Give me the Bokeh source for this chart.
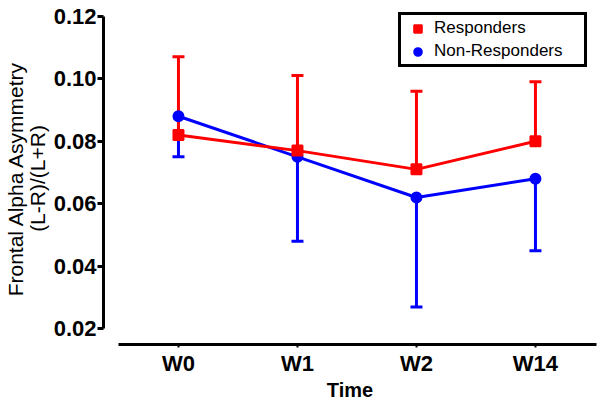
from bokeh.plotting import figure
from bokeh.models import FixedTicker, Legend, LegendItem, Whisker, ColumnDataSource, NumeralTickFormatter
from bokeh.embed import file_html
from bokeh.resources import INLINE

weeks = ["W0", "W1", "W2", "W14"]
resp_mean = [0.082, 0.077, 0.071, 0.080]
resp_upper = [0.107, 0.101, 0.096, 0.099]
nonresp_mean = [0.088, 0.075, 0.062, 0.068]
nonresp_lower = [0.075, 0.048, 0.027, 0.045]
y_ticks = [0.02, 0.04, 0.06, 0.08, 0.10, 0.12]

xs = list(range(len(weeks)))
RED = "#ff0000"
BLUE = "#0000ff"
FONT = "Liberation Sans"

p = figure(width=604, height=406, output_backend="svg", toolbar_location=None,
           x_range=(-0.630, 3.513), y_range=(0.01498, 0.12118),
           min_border_left=103, min_border_right=8, min_border_top=12, min_border_bottom=62)
p.outline_line_color = None
p.grid.visible = False
p.background_fill_color = "white"

# error bars
src_r = ColumnDataSource(dict(x=xs, base=resp_mean, upper=resp_upper))
src_b = ColumnDataSource(dict(x=xs, base=nonresp_mean, lower=nonresp_lower))
wr = Whisker(source=src_r, base="x", upper="upper", lower="base", dimension="height",
             line_color=RED, line_width=3)
wr.upper_head.line_color = RED
wr.upper_head.line_width = 3
wr.upper_head.size = 12
wr.lower_head = None
wb = Whisker(source=src_b, base="x", upper="base", lower="lower", dimension="height",
             line_color=BLUE, line_width=3)
wb.lower_head.line_color = BLUE
wb.lower_head.line_width = 3
wb.lower_head.size = 12
wb.upper_head = None
p.add_layout(wb)
p.add_layout(wr)

lb = p.line(xs, nonresp_mean, line_color=BLUE, line_width=3)
cb = p.scatter(xs, nonresp_mean, marker="circle", size=10, fill_color=BLUE,
               line_color=BLUE, line_width=2)
lr = p.line(xs, resp_mean, line_color=RED, line_width=3)
sr = p.scatter(xs, resp_mean, marker="square", size=10, fill_color=RED,
               line_color=RED, line_width=2)

# axes
p.yaxis.bounds = (0.02, 0.12)
p.yaxis.ticker = FixedTicker(ticks=y_ticks)
p.yaxis.formatter = NumeralTickFormatter(format="0.00")
p.yaxis.minor_tick_line_color = None
p.yaxis.major_tick_in = 0
p.yaxis.major_tick_out = 6
p.yaxis.major_tick_line_width = 3
p.yaxis.major_tick_line_color = "black"
p.yaxis.axis_line_width = 3
p.yaxis.axis_line_color = "black"
p.yaxis.major_label_standoff = 1
p.yaxis.major_label_text_font = FONT
p.yaxis.major_label_text_font_style = "bold"
p.yaxis.major_label_text_font_size = "22px"
p.yaxis.major_label_text_color = "black"
p.yaxis.axis_label = "Frontal Alpha Asymmetry\n(L-R)/(L+R)"
p.yaxis.axis_label_text_font = FONT
p.yaxis.axis_label_text_font_style = "normal"
p.yaxis.axis_label_text_font_size = "21px"
p.yaxis.axis_label_text_color = "black"
p.yaxis.axis_label_text_line_height = 0.95
p.yaxis.axis_label_standoff = 2

p.xaxis.bounds = (-0.504, 3.513)
p.xaxis.ticker = FixedTicker(ticks=xs)
p.xaxis.major_label_overrides = {i: w for i, w in enumerate(weeks)}
p.xaxis.minor_tick_line_color = None
p.xaxis.major_tick_in = 0
p.xaxis.major_tick_out = 3
p.xaxis.major_tick_line_width = 2
p.xaxis.major_tick_line_color = "black"
p.xaxis.axis_line_width = 3
p.xaxis.axis_line_color = "black"
p.xaxis.major_label_standoff = 3
p.xaxis.major_label_text_font = FONT
p.xaxis.major_label_text_font_style = "bold"
p.xaxis.major_label_text_font_size = "22px"
p.xaxis.major_label_text_color = "black"
p.xaxis.axis_label = "Time"
p.xaxis.axis_label_text_font = FONT
p.xaxis.axis_label_text_font_style = "bold"
p.xaxis.axis_label_text_font_size = "20px"
p.xaxis.axis_label_text_color = "black"
p.xaxis.axis_label_standoff = 0

legend = Legend(items=[LegendItem(label="Responders", renderers=[sr]),
                       LegendItem(label="Non-Responders", renderers=[cb])],
                location=(295, 277), border_line_color="black", border_line_width=3,
                border_line_alpha=1,
                label_text_font=FONT, label_text_font_size="17px", label_text_color="black",
                glyph_width=27, glyph_height=19, label_height=19, label_width=147,
                spacing=3, padding=3, margin=0, label_standoff=3,
                background_fill_alpha=1)
p.add_layout(legend)

open("out.html", "w").write(file_html(p, INLINE))
